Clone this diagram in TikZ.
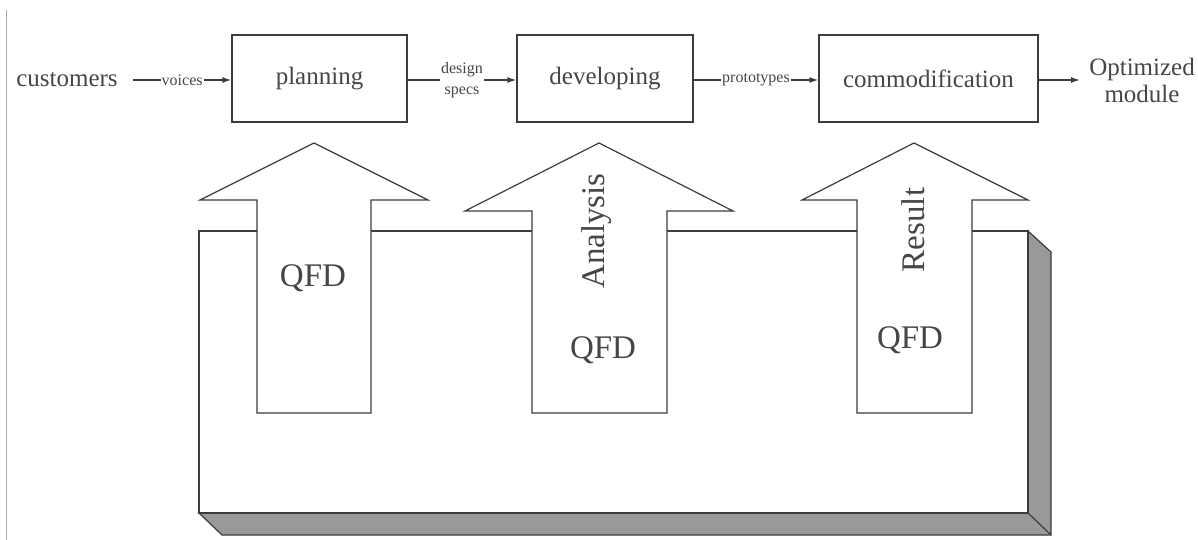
\documentclass[tikz,border=0pt]{standalone}
\usepackage{fontspec}
\setmainfont{Liberation Serif}
\usetikzlibrary{arrows.meta}
\definecolor{ink}{RGB}{60,60,60}
\definecolor{txt}{RGB}{70,70,70}
\definecolor{shade}{RGB}{153,153,153}
\begin{document}
\begin{tikzpicture}[x=1pt,y=-1pt,
  stagebox/.style={draw=ink,line width=1.4pt,minimum height=87pt,inner sep=0pt,text=txt,font=\fontsize{25}{28}\selectfont},
  flow/.style={draw=ink,line width=1.3pt,-{Latex[length=9pt,width=6pt]}},
  flowlabel/.style={fill=white,inner sep=1pt,text=txt,font=\fontsize{16}{17}\selectfont},
  bigtext/.style={text=txt,font=\fontsize{33}{36}\selectfont,inner sep=0pt},
  plain/.style={text=txt,font=\fontsize{25}{28}\selectfont},
  bigarrow/.style={draw=ink,line width=1.2pt,fill=white,line join=miter},
  shadow/.style={draw=ink,line width=1.2pt,fill=shade,line join=miter}]
\useasboundingbox (0,0) rectangle (1198,540);
% left border line
\draw[line width=1pt,color={rgb,255:red,170;green,170;blue,170}] (6.5,10) -- (6.5,540);

% top flow
\node[plain,inner sep=3pt] (cust) at (67,80) {customers};
\node[stagebox,minimum width=175pt] (plan) at (319.5,78.5) {planning};
\node[stagebox,minimum width=176pt] (dev) at (605,78.5) {developing};
\node[stagebox,minimum width=219pt] (comm) at (928.5,78.5) {commodification};
\node[plain,align=center,inner sep=4pt,font=\fontsize{25}{27}\selectfont] (opt) at (1142,80) {Optimized\\module};
\coordinate (custE) at (133,80);
\coordinate (optW) at (1080,80);

\draw[flow] (custE) -- node[flowlabel] {voices} (plan.west |- custE);
\draw[flow] (plan.east |- custE) -- node[flowlabel,align=center,font=\fontsize{16}{21}\selectfont] {design\\specs} (dev.west |- custE);
\draw[flow] (dev.east |- custE) -- node[flowlabel] {prototypes} (comm.west |- custE);
\draw[flow] (comm.east |- custE) -- (optW);

% frame with shadow
\draw[shadow] (1028,231) -- (1051,252) -- (1051,535) -- (222,535) -- (199,513) -- (1028,513) -- cycle;
\draw[ink,line width=1.2pt] (1028,513) -- (1051,535);
\draw[draw=ink,line width=1.2pt,fill=white] (199,231) rectangle (1028,513);

% big arrows
\draw[bigarrow] (257,413) -- (257,200) -- (200,200) -- (314,143) -- (428,200) -- (371,200) -- (371,413) -- cycle;
\draw[bigarrow] (532,413) -- (532,211) -- (465,211) -- (599,143) -- (733,211) -- (667,211) -- (667,413) -- cycle;
\draw[bigarrow] (857,413) -- (857,200) -- (802,200) -- (914,143) -- (1028,200) -- (972,200) -- (972,413) -- cycle;

\node[bigtext] (q1) at (313,278) {QFD};
\node[bigtext,rotate=90] (an) at (597,231) {Analysis};
\node[bigtext] (q2) at (603,350) {QFD};
\node[bigtext,rotate=90] (res) at (913,230) {Result};
\node[bigtext] (q3) at (910,340) {QFD};
\end{tikzpicture}
\end{document}
